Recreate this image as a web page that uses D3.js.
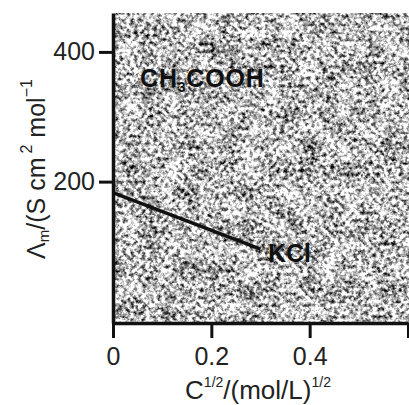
<!DOCTYPE html>
<html>
<head>
<meta charset="utf-8">
<script src="https://cdn.jsdelivr.net/npm/d3@7"></script>
<style>
  body { margin: 0; background: #fff; }
  svg { display: block; font-family: "Liberation Sans", Arial, sans-serif; }
</style>
</head>
<body>
<div id="chart"></div>
<script>
// values
var xTicks = [0, 0.2, 0.4, 0.6];
var xTickLabels = ["0", "0.2", "0.4", ""];
var yTicks = [200, 400];
var kclLine = [[0, 183], [0.3, 96]];
var seriesLabels = [
  {name: "CH3COOH", x: 0.055, y: 346},
  {name: "KCl", x: 0.315, y: 76}
];

var width = 409, height = 405;
// plot box (note: "top" is taken by window.top, so use own names)
var plotL = 113, plotR = 408, plotT = 13, plotB = 323;

var x = d3.scaleLinear().domain([0, 0.6]).range([plotL, plotR]);
var y = d3.scaleLinear().domain([-18, 460]).range([plotB, plotT]);

var svg = d3.select("#chart").append("svg")
  .attr("width", width)
  .attr("height", height);

// grainy scanned background: fine grain mixed with a little coarse blotching
var defs = svg.append("defs");
var filt = defs.append("filter").attr("id", "grain")
  .attr("x", 0).attr("y", 0).attr("width", 1).attr("height", 1)
  .attr("color-interpolation-filters", "sRGB");
filt.append("feTurbulence")
  .attr("type", "fractalNoise")
  .attr("baseFrequency", 0.26)
  .attr("numOctaves", 3)
  .attr("seed", 7)
  .attr("result", "fine");
filt.append("feTurbulence")
  .attr("type", "fractalNoise")
  .attr("baseFrequency", 0.05)
  .attr("numOctaves", 2)
  .attr("seed", 3)
  .attr("result", "coarse");
filt.append("feComposite")
  .attr("in", "fine").attr("in2", "coarse")
  .attr("operator", "arithmetic")
  .attr("k1", 0).attr("k2", 0.75).attr("k3", 0.25).attr("k4", 0)
  .attr("result", "mix");
filt.append("feColorMatrix")
  .attr("in", "mix")
  .attr("type", "matrix")
  .attr("values", "1 0 0 0 0  1 0 0 0 0  1 0 0 0 0  0 0 0 0 1");
var ct = filt.append("feComponentTransfer");
["R", "G", "B"].forEach(function(c) {
  ct.append("feFunc" + c).attr("type", "linear").attr("slope", 2.8).attr("intercept", -0.66);
});

svg.append("rect")
  .attr("x", plotL).attr("y", plotT)
  .attr("width", width - plotL).attr("height", plotB - plotT)
  .attr("fill", "#aaa")
  .attr("filter", "url(#grain)");

// KCl line
var line = d3.line()
  .x(function(d) { return x(d[0]); })
  .y(function(d) { return y(d[1]); });

svg.append("path")
  .attr("d", line(kclLine))
  .attr("fill", "none")
  .attr("stroke", "#111")
  .attr("stroke-width", 3.5);

// series labels
var lab = svg.selectAll(".lab").data(seriesLabels).enter().append("text")
  .attr("x", function(d) { return x(d.x); })
  .attr("y", function(d) { return y(d.y); })
  .attr("font-size", 25)
  .attr("font-weight", "bold")
  .attr("fill", "#111");
lab.each(function(d) {
  var t = d3.select(this);
  if (d.name == "CH3COOH") {
    t.attr("letter-spacing", 0.8);
    t.append("tspan").text("CH");
    t.append("tspan").attr("font-size", 14).attr("dy", 5).text("3");
    t.append("tspan").attr("dy", -5).text("COOH");
  } else {
    t.text(d.name);
  }
});

// axes
var xAxis = svg.append("g")
  .attr("transform", "translate(0," + plotB + ")")
  .call(d3.axisBottom(x).tickValues(xTicks)
    .tickFormat(function(d, i) { return xTickLabels[i]; })
    .tickSize(15).tickPadding(9).tickSizeOuter(0));

var yAxis = svg.append("g")
  .attr("transform", "translate(" + plotL + ",0)")
  .call(d3.axisLeft(y).tickValues(yTicks).tickSize(14).tickPadding(4).tickSizeOuter(0));

[xAxis, yAxis].forEach(function(a) {
  a.select(".domain").attr("stroke", "#111").attr("stroke-width", 3.5);
  a.selectAll(".tick line").attr("stroke", "#111").attr("stroke-width", 3);
  a.selectAll(".tick text").attr("font-size", 25).attr("fill", "#222")
    .attr("font-family", "Liberation Sans, Arial, sans-serif");
});

// axis titles
var xt = svg.append("text")
  .attr("x", 258).attr("y", 399)
  .attr("text-anchor", "middle")
  .attr("font-size", 26)
  .attr("fill", "#222");
xt.append("tspan").text("C");
xt.append("tspan").attr("font-size", 14).attr("dy", -12).text("1/2");
xt.append("tspan").attr("dy", 12).text("/(mol/L)");
xt.append("tspan").attr("font-size", 14).attr("dy", -12).text("1/2");

var yt = svg.append("text")
  .attr("transform", "translate(45,169) rotate(-90)")
  .attr("text-anchor", "middle")
  .attr("font-size", 25)
  .attr("fill", "#222");
yt.append("tspan").text("\u039B");
yt.append("tspan").attr("font-size", 15).attr("dy", 4).text("m");
yt.append("tspan").attr("dy", -4).text("/(S cm");
yt.append("tspan").attr("font-size", 16).attr("dy", -13).attr("dx", 4).text("2");
yt.append("tspan").attr("dy", 13).text(" mol");
yt.append("tspan").attr("font-size", 16).attr("dy", -13).text("\u22121");
</script>
</body>
</html>
